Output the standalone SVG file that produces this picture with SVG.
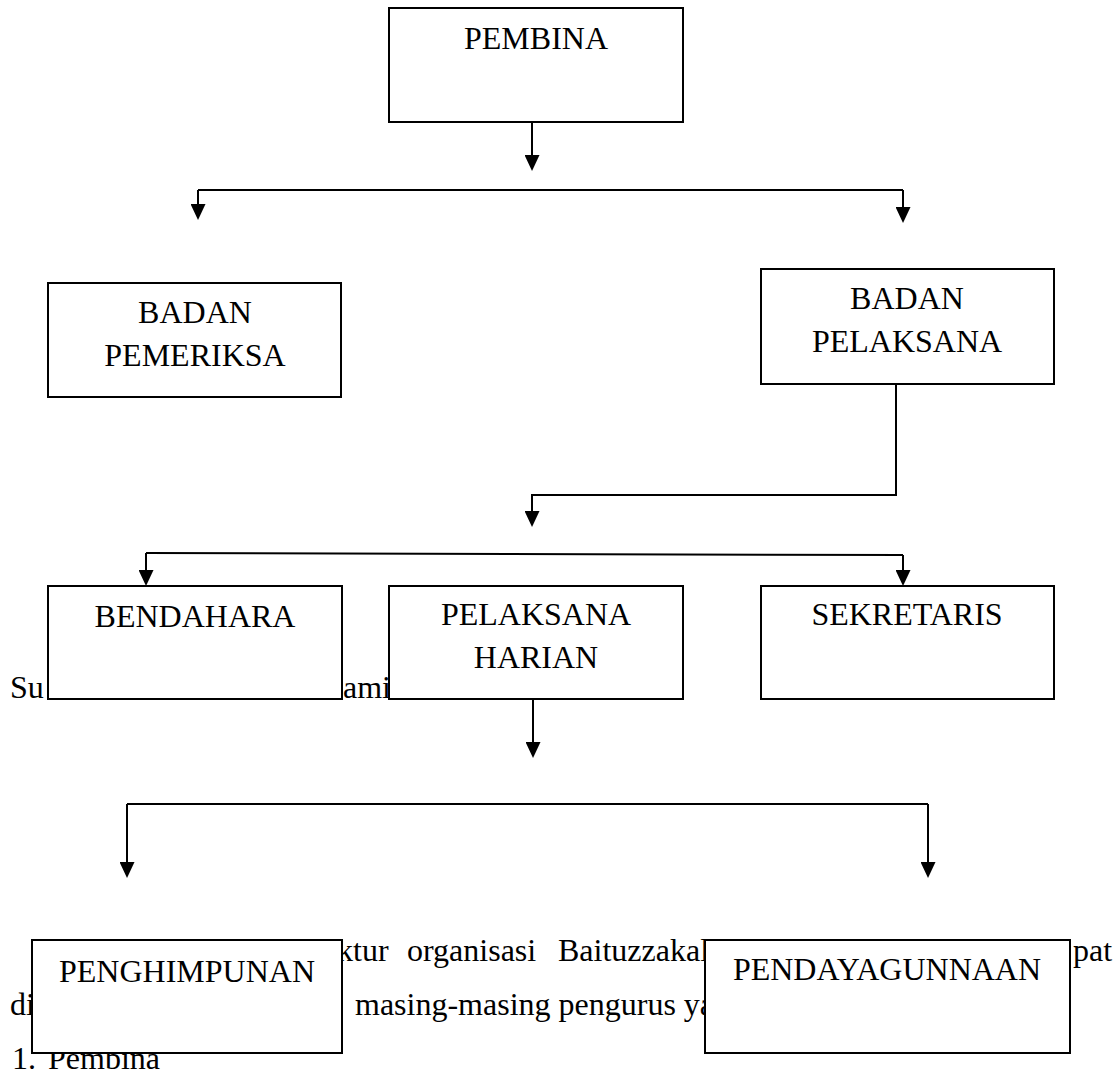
<svg xmlns="http://www.w3.org/2000/svg" width="1120" height="1074" viewBox="0 0 1120 1074">
<style>
.bg{font-family:"Liberation Serif","Times New Roman",serif;font-size:32px;fill:#000}
.lbl{font-family:"Liberation Serif","Times New Roman",serif;font-size:32px;fill:#000;text-anchor:middle}
.box{fill:#fff;stroke:#000;stroke-width:2}
.ln{fill:none;stroke:#000;stroke-width:2}
</style>
<defs>
<marker id="ah" viewBox="0 0 16 15" refX="0" refY="7.5" markerWidth="16" markerHeight="15" markerUnits="userSpaceOnUse" orient="auto">
<path d="M0,0 L16,7.5 L0,15 Z" fill="#000"/>
</marker>
</defs>
<rect width="1120" height="1074" fill="#fff"/>
<g id="body-text">
<text class="bg" x="10" y="698">Su</text>
<text class="bg" x="343" y="698">ami</text>
<text class="bg" x="337" y="961">ktur</text>
<text class="bg" x="407" y="961">organisasi</text>
<text class="bg" x="558" y="961">Baituzzakal</text>
<text class="bg" x="1073" y="961">pat</text>
<text class="bg" x="10" y="1015">di</text>
<text class="bg" x="355" y="1015">masing-masing pengurus ya</text>
<text class="bg" x="12" y="1069">1. <tspan x="48">Pembina</tspan></text>
</g>
<g id="connectors">
<path class="ln" d="M532,122 V155" marker-end="url(#ah)"/>
<path class="ln" d="M198,190 H903"/>
<path class="ln" d="M198,190 V204" marker-end="url(#ah)"/>
<path class="ln" d="M903,190 V207" marker-end="url(#ah)"/>
<path class="ln" d="M896,384 V495 H532 V511" marker-end="url(#ah)"/>
<path class="ln" d="M146,553 L903,555"/>
<path class="ln" d="M146,553 V570" marker-end="url(#ah)"/>
<path class="ln" d="M903,555 V570" marker-end="url(#ah)"/>
<path class="ln" d="M533,699 V742" marker-end="url(#ah)"/>
<path class="ln" d="M127,804 H928"/>
<path class="ln" d="M127,804 V862" marker-end="url(#ah)"/>
<path class="ln" d="M928,804 V862" marker-end="url(#ah)"/>
</g>
<g id="pembina">
<rect class="box" x="389" y="8" width="294" height="114"/>
<text class="lbl" x="536" y="49">PEMBINA</text>
</g>
<g id="badan-pemeriksa">
<rect class="box" x="48" y="283" width="293" height="114"/>
<text class="lbl" x="195" y="323">BADAN</text>
<text class="lbl" x="195" y="366">PEMERIKSA</text>
</g>
<g id="badan-pelaksana">
<rect class="box" x="761" y="269" width="293" height="115"/>
<text class="lbl" x="907" y="309">BADAN</text>
<text class="lbl" x="907" y="352">PELAKSANA</text>
</g>
<g id="bendahara">
<rect class="box" x="48" y="586" width="294" height="113"/>
<text class="lbl" x="195" y="627">BENDAHARA</text>
</g>
<g id="pelaksana-harian">
<rect class="box" x="389" y="586" width="294" height="113"/>
<text class="lbl" x="536" y="625">PELAKSANA</text>
<text class="lbl" x="536" y="668">HARIAN</text>
</g>
<g id="sekretaris">
<rect class="box" x="761" y="586" width="293" height="113"/>
<text class="lbl" x="907" y="625">SEKRETARIS</text>
</g>
<g id="penghimpunan">
<rect class="box" x="32" y="940" width="310" height="113"/>
<text class="lbl" x="187" y="982">PENGHIMPUNAN</text>
</g>
<g id="pendayagunnaan">
<rect class="box" x="705" y="940" width="365" height="113"/>
<text class="lbl" x="887" y="980">PENDAYAGUNNAAN</text>
</g>
</svg>
